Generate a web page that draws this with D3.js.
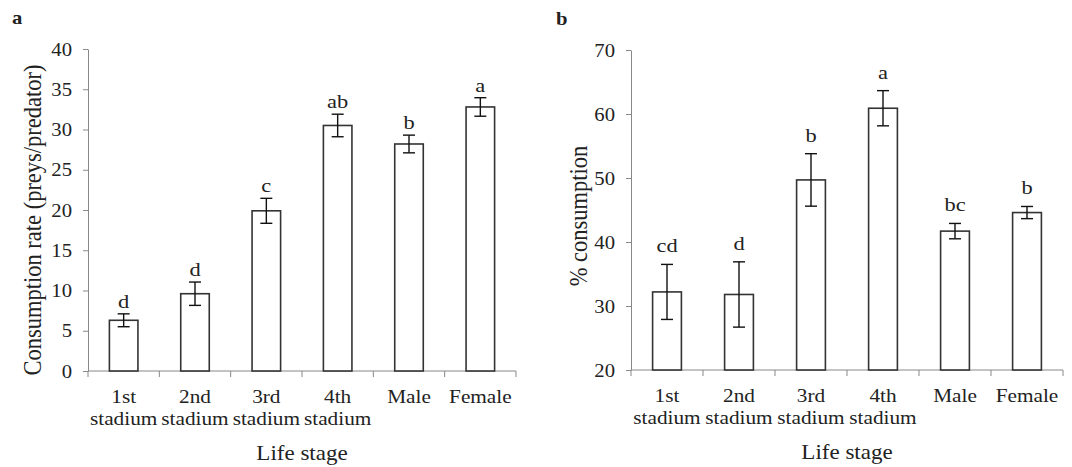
<!DOCTYPE html>
<html>
<head>
<meta charset="utf-8">
<script src="https://cdn.jsdelivr.net/npm/d3@7"></script>
<style>
  body { margin: 0; background: #fff; }
  text { font-family: "Liberation Serif", "Times New Roman", serif; fill: #222; }
</style>
</head>
<body>
<div id="chart"></div>
<script>
const WIDTH = 1072;
const HEIGHT = 467;
const STRETCH = 1.15; // the source figure is a bit wider than tall

const stages = ['1st', '2nd', '3rd', '4th', 'Male', 'Female'];
const stageSub = ['stadium', 'stadium', 'stadium', 'stadium', '', ''];

// panel a: consumption rate (preys/predator)
const rateMean = [6.3, 9.6, 19.9, 30.5, 28.2, 32.8];
const rateErr = [0.8, 1.45, 1.55, 1.4, 1.1, 1.15];
const rateLetters = ['d', 'd', 'c', 'ab', 'b', 'a'];
const rateTicks = [0, 5, 10, 15, 20, 25, 30, 35, 40];

// panel b: % consumption
const pctMean = [32.2, 31.8, 49.7, 60.9, 41.7, 44.6];
const pctErr = [4.3, 5.1, 4.1, 2.75, 1.2, 0.95];
const pctLetters = ['cd', 'd', 'b', 'a', 'bc', 'b'];
const pctTicks = [20, 30, 40, 50, 60, 70];

const svg = d3.select('#chart')
  .append('svg')
  .attr('width', WIDTH)
  .attr('height', HEIGHT);

const at = (x, y) => `translate(${x},${y}) scale(${STRETCH},1)`;

const drawPanel = (opts) => {
  const x = d3.scaleBand()
    .domain(stages)
    .range([opts.left, opts.right]);

  const y = d3.scaleLinear()
    .domain([opts.ticks[0], opts.ticks[opts.ticks.length - 1]])
    .range([opts.bottom, opts.top]);

  const g = svg.append('g');

  // y axis
  const yAxis = g.append('g')
    .attr('transform', `translate(${opts.left},0)`)
    .call(d3.axisLeft(y).tickValues(opts.ticks).tickSize(5).tickSizeOuter(0));
  yAxis.select('.domain').attr('stroke', '#888');
  yAxis.selectAll('.tick line').attr('stroke', '#888');
  yAxis.selectAll('.tick text')
    .attr('x', 0)
    .attr('dy', '0.34em')
    .attr('transform', at(-16, 0))
    .attr('font-size', 18)
    .attr('font-family', '"Liberation Serif", serif')
    .attr('fill', '#222');

  // x axis line and ticks between categories
  g.append('line')
    .attr('x1', opts.left).attr('x2', opts.right)
    .attr('y1', opts.bottom).attr('y2', opts.bottom)
    .attr('stroke', '#888');

  const bounds = stages.map(s => x(s)).concat([opts.right]);
  g.selectAll('.xtick')
    .data(bounds)
    .enter()
    .append('line')
    .attr('x1', d => d).attr('x2', d => d)
    .attr('y1', opts.bottom).attr('y2', opts.bottom + 6)
    .attr('stroke', '#888');

  const barW = x.bandwidth() * 0.4;
  const data = stages.map((s, i) => ({
    key: s, sub: stageSub[i], mean: opts.mean[i], err: opts.err[i], letter: opts.letters[i]
  }));

  const groups = g.selectAll('.bar')
    .data(data)
    .enter()
    .append('g')
    .attr('transform', d => `translate(${x(d.key) + x.bandwidth() / 2},0)`);

  groups.append('rect')
    .attr('x', -barW / 2)
    .attr('width', barW)
    .attr('y', d => y(d.mean))
    .attr('height', d => opts.bottom - y(d.mean))
    .attr('fill', '#fff')
    .attr('stroke', '#333')
    .attr('stroke-width', 1.6);

  groups.append('line')
    .attr('y1', d => y(d.mean + d.err))
    .attr('y2', d => y(d.mean - d.err))
    .attr('stroke', '#111')
    .attr('stroke-width', 1.4);

  groups.selectAll('.cap')
    .data(d => [d.mean + d.err, d.mean - d.err])
    .enter()
    .append('line')
    .attr('x1', -6).attr('x2', 6)
    .attr('y1', v => y(v)).attr('y2', v => y(v))
    .attr('stroke', '#111')
    .attr('stroke-width', 1.4);

  groups.append('text')
    .attr('text-anchor', 'middle')
    .attr('transform', d => at(0, y(d.mean + d.err) - opts.letterGap))
    .attr('font-size', 19.5)
    .text(d => d.letter);

  groups.append('text')
    .attr('text-anchor', 'middle')
    .attr('transform', at(0, opts.bottom + 32))
    .attr('font-size', 18.5)
    .text(d => d.key);

  groups.append('text')
    .attr('text-anchor', 'middle')
    .attr('transform', at(0, opts.bottom + 54))
    .attr('font-size', 18.5)
    .text(d => d.sub);

  g.append('text')
    .attr('text-anchor', 'middle')
    .attr('transform', at((opts.left + opts.right) / 2, opts.bottom + 89))
    .attr('font-size', 20)
    .text('Life stage');

  g.append('text')
    .attr('text-anchor', 'middle')
    .attr('transform', `translate(${opts.titleX},${opts.titleY}) scale(${STRETCH},1) rotate(-90)`)
    .attr('font-size', 22.5)
    .text(opts.title);

  g.append('text')
    .attr('transform', at(opts.tagX, opts.tagY))
    .attr('font-size', 18)
    .attr('font-weight', 'bold')
    .text(opts.tag);
};

drawPanel({
  left: 88, right: 516, top: 49, bottom: 371,
  ticks: rateTicks, mean: rateMean, err: rateErr, letters: rateLetters,
  letterGap: 6, title: 'Consumption rate (preys/predator)',
  titleX: 41, titleY: 220, tag: 'a', tagX: 12, tagY: 24
});

drawPanel({
  left: 631, right: 1063, top: 50, bottom: 370,
  ticks: pctTicks, mean: pctMean, err: pctErr, letters: pctLetters,
  letterGap: 12, title: '% consumption',
  titleX: 587, titleY: 216, tag: 'b', tagX: 556, tagY: 25
});
</script>
</body>
</html>
